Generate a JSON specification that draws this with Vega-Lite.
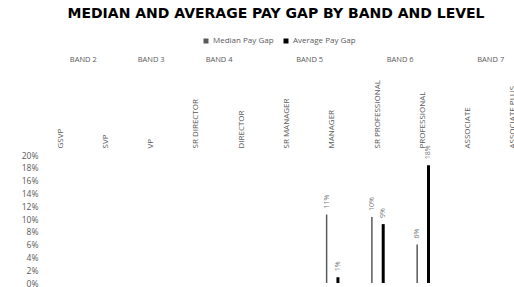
{
  "$schema": "https://vega.github.io/schema/vega-lite/v6.json",
  "autosize": {"type": "none"},
  "padding": {"left": 38, "top": 155, "right": 0, "bottom": 4},
  "width": 476,
  "height": 128,
  "background": "white",
  "title": {
    "text": "MEDIAN AND AVERAGE PAY GAP BY BAND AND LEVEL",
    "font": "DejaVu Sans",
    "fontSize": 14,
    "fontWeight": "bold",
    "color": "#000000",
    "anchor": "middle",
    "offset": 16
  },
  "config": {
    "view": {"stroke": null},
    "font": "Open Sans",
    "axisY": {"labelOverlap": false}
  },
  "datasets": {
    "gap": [
      {"level": "MANAGER", "measure": "Median Pay Gap", "value": 0.107},
      {"level": "MANAGER", "measure": "Average Pay Gap", "value": 0.009},
      {"level": "SR PROFESSIONAL", "measure": "Median Pay Gap", "value": 0.103},
      {"level": "SR PROFESSIONAL", "measure": "Average Pay Gap", "value": 0.092},
      {"level": "PROFESSIONAL", "measure": "Median Pay Gap", "value": 0.060},
      {"level": "PROFESSIONAL", "measure": "Average Pay Gap", "value": 0.184}
    ],
    "bands": [
      {"band": "BAND 2", "first": "GSVP", "span": 2},
      {"band": "BAND 3", "first": "VP", "span": 1},
      {"band": "BAND 4", "first": "SR DIRECTOR", "span": 2},
      {"band": "BAND 5", "first": "SR MANAGER", "span": 2},
      {"band": "BAND 6", "first": "SR PROFESSIONAL", "span": 2},
      {"band": "BAND 7", "first": "ASSOCIATE", "span": 2}
    ]
  },
  "encoding": {
    "x": {
      "field": "level",
      "type": "nominal",
      "scale": {
        "domain": ["GSVP", "SVP", "VP", "SR DIRECTOR", "DIRECTOR", "SR MANAGER", "MANAGER", "SR PROFESSIONAL", "PROFESSIONAL", "ASSOCIATE", "ASSOCIATE PLUS"],
        "range": [0, 498],
        "paddingInner": 0,
        "paddingOuter": 0
      },
      "axis": {
        "orient": "top",
        "title": null,
        "labelAngle": -90,
        "labelPadding": 7,
        "ticks": false,
        "domain": false,
        "grid": false,
        "labelFontSize": 8,
        "labelColor": "#595959",
        "labelFont": "Open Sans",
        "labelLimit": 200,
        "labelOverlap": false
      }
    }
  },
  "layer": [
    {
      "data": {"name": "gap"},
      "mark": {"type": "bar", "width": 1.5},
      "transform": [{"filter": "datum.measure == 'Median Pay Gap'"}],
      "encoding": {
        "xOffset": {"field": "measure", "type": "nominal", "scale": {"domain": ["Median Pay Gap", "Average Pay Gap"], "paddingInner": 0, "paddingOuter": 1.27}},
        "y": {
          "field": "value",
          "type": "quantitative",
          "scale": {"domain": [0, 0.2]},
          "axis": {"title": null, "format": ".0%", "values": [0, 0.02, 0.04, 0.06, 0.08, 0.1, 0.12, 0.14, 0.16, 0.18, 0.2], "labelOverlap": false, "labelBound": false, "ticks": false, "domain": false, "grid": false, "labelPadding": 0, "labelFontSize": 8.5, "labelColor": "#595959", "labelFont": "Open Sans"}
        },
        "color": {
          "field": "measure",
          "type": "nominal",
          "scale": {"domain": ["Median Pay Gap", "Average Pay Gap"], "range": ["#595959", "#000000"]},
          "legend": {
            "title": null,
            "orient": "none",
            "direction": "horizontal",
            "legendX": 164,
            "legendY": -118,
            "symbolType": "square",
            "symbolSize": 25,
            "labelFontSize": 8,
            "labelColor": "#595959",
            "labelFont": "Open Sans",
            "columnPadding": 8,
            "labelOffset": 3,
            "symbolOffset": 0
          }
        }
      }
    },
    {
      "data": {"name": "gap"},
      "mark": {"type": "bar", "width": 3},
      "transform": [{"filter": "datum.measure == 'Average Pay Gap'"}],
      "encoding": {
        "xOffset": {"field": "measure", "type": "nominal"},
        "y": {
          "field": "value",
          "type": "quantitative",
          "axis": {"title": null, "format": ".0%", "values": [0, 0.02, 0.04, 0.06, 0.08, 0.1, 0.12, 0.14, 0.16, 0.18, 0.2], "labelOverlap": false, "labelBound": false, "ticks": false, "domain": false, "grid": false, "labelPadding": 0, "labelFontSize": 8.5, "labelColor": "#595959", "labelFont": "Open Sans"}
        },
        "color": {"field": "measure", "type": "nominal"}
      }
    },
    {
      "data": {"name": "gap"},
      "mark": {"type": "text", "angle": 270, "align": "left", "baseline": "middle", "dx": 6, "fontSize": 7, "color": "#808080", "font": "Open Sans"},
      "encoding": {
        "xOffset": {"field": "measure", "type": "nominal"},
        "y": {
          "field": "value",
          "type": "quantitative",
          "axis": {"title": null, "format": ".0%", "values": [0, 0.02, 0.04, 0.06, 0.08, 0.1, 0.12, 0.14, 0.16, 0.18, 0.2], "labelOverlap": false, "labelBound": false, "ticks": false, "domain": false, "grid": false, "labelPadding": 0, "labelFontSize": 8.5, "labelColor": "#595959", "labelFont": "Open Sans"}
        },
        "text": {"field": "value", "type": "quantitative", "format": ".0%"}
      }
    },
    {
      "data": {"name": "bands"},
      "transform": [{"filter": "datum.span == 2"}],
      "mark": {"type": "text", "align": "center", "baseline": "middle", "fontSize": 7.5, "letterSpacing": 1.2, "color": "#595959", "font": "Open Sans"},
      "encoding": {
        "x": {"field": "first", "type": "nominal", "bandPosition": 1},
        "y": {
          "datum": 0.349,
          "type": "quantitative",
          "axis": {"title": null, "format": ".0%", "values": [0, 0.02, 0.04, 0.06, 0.08, 0.1, 0.12, 0.14, 0.16, 0.18, 0.2], "labelOverlap": false, "labelBound": false, "ticks": false, "domain": false, "grid": false, "labelPadding": 0, "labelFontSize": 8.5, "labelColor": "#595959", "labelFont": "Open Sans"}
        },
        "text": {"field": "band"}
      }
    },
    {
      "data": {"name": "bands"},
      "transform": [{"filter": "datum.span == 1"}],
      "mark": {"type": "text", "align": "center", "baseline": "middle", "fontSize": 7.5, "letterSpacing": 1.2, "color": "#595959", "font": "Open Sans"},
      "encoding": {
        "x": {"field": "first", "type": "nominal", "bandPosition": 0.5},
        "y": {
          "datum": 0.349,
          "type": "quantitative",
          "axis": {"title": null, "format": ".0%", "values": [0, 0.02, 0.04, 0.06, 0.08, 0.1, 0.12, 0.14, 0.16, 0.18, 0.2], "labelOverlap": false, "labelBound": false, "ticks": false, "domain": false, "grid": false, "labelPadding": 0, "labelFontSize": 8.5, "labelColor": "#595959", "labelFont": "Open Sans"}
        },
        "text": {"field": "band"}
      }
    }
  ]
}
